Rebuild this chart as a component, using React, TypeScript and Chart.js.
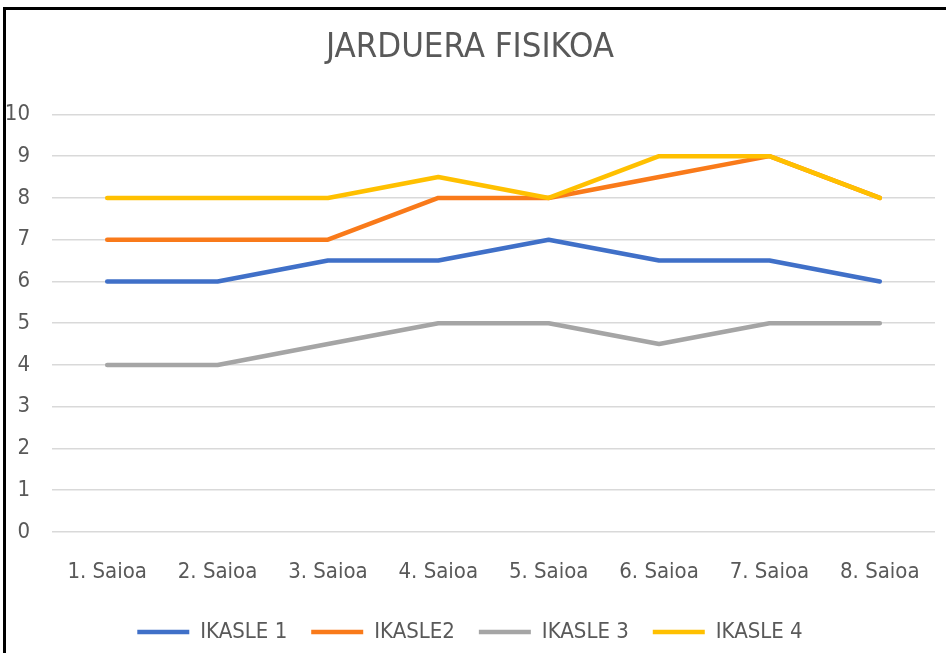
import React, { useEffect, useRef } from "react";
import { Chart, registerables } from "chart.js";

Chart.register(...registerables);

const TITLE = "JARDUERA FISIKOA";
const categories = ["1. Saioa", "2. Saioa", "3. Saioa", "4. Saioa", "5. Saioa", "6. Saioa", "7. Saioa", "8. Saioa"];
const seriesNames = ["IKASLE 1", "IKASLE2", "IKASLE 3", "IKASLE 4"];
const ikasle1 = [6, 6, 6.5, 6.5, 7, 6.5, 6.5, 6];
const ikasle2 = [7, 7, 7, 8, 8, 8.5, 9, 8];
const ikasle3 = [4, 4, 4.5, 5, 5, 4.5, 5, 5];
const ikasle4 = [8, 8, 8, 8.5, 8, 9, 9, 8];
const seriesColors = ["#4070C8", "#F97A1A", "#A5A5A5", "#FFC000"];
const yMin = 0;
const yMax = 10;
const yStep = 1;

const FONT = '"DejaVu Sans Condensed", "Liberation Sans Narrow", sans-serif';
const TEXT_COLOR = "#595959";

export default function App() {
  const canvasRef = useRef<HTMLCanvasElement | null>(null);

  useEffect(() => {
    const canvas = canvasRef.current;
    if (!canvas) return;
    const allSeries = [ikasle1, ikasle2, ikasle3, ikasle4];
    const chart = new Chart(canvas, {
      type: "line",
      data: {
        labels: categories,
        datasets: allSeries.map((values, i) => ({
          label: seriesNames[i],
          data: values,
          borderColor: seriesColors[i],
          backgroundColor: seriesColors[i],
          borderWidth: 4.5,
          pointRadius: 0,
          pointHoverRadius: 0,
          tension: 0,
          fill: false,
          order: allSeries.length - i,
          borderCapStyle: "round" as const,
          borderJoinStyle: "round" as const,
        })),
      },
      options: {
        animation: false,
        responsive: false,
        maintainAspectRatio: false,
        layout: { padding: { top: 10, left: 5, right: 11, bottom: 0 } },
        plugins: {
          title: {
            display: true,
            text: TITLE,
            color: TEXT_COLOR,
            font: { family: FONT, size: 34.5, weight: "normal" },
            padding: { top: 17.5, bottom: 45.5 },
          },
          legend: {
            display: true,
            position: "bottom",
            labels: {
              color: TEXT_COLOR,
              font: { family: FONT, size: 22 },
              usePointStyle: true,
              pointStyle: "line",
              pointStyleWidth: 52,
              boxHeight: 22,
              padding: 24,
              sort: (a: any, b: any) => a.datasetIndex - b.datasetIndex,
            },
          },
          tooltip: { enabled: false },
        },
        scales: {
          x: {
            offset: true,
            grid: { display: false, drawTicks: true, tickLength: 27 },
            border: { display: false },
            ticks: {
              color: TEXT_COLOR,
              font: { family: FONT, size: 22 },
              padding: 0,
              maxRotation: 0,
              autoSkip: false,
            },
            afterFit: (scale: any) => {
              scale.height = 65;
              scale.paddingLeft = 0;
              scale.paddingRight = 0;
            },
          },
          y: {
            min: yMin,
            max: yMax,
            grid: { color: "#D9D9D9", lineWidth: 1.5, drawTicks: false },
            border: { display: false },
            ticks: {
              stepSize: yStep,
              color: TEXT_COLOR,
              font: { family: FONT, size: 22 },
              padding: 22,
            },
            afterFit: (scale: any) => {
              scale.width = 47;
            },
          },
        },
      },
    });
    return () => chart.destroy();
  }, []);

  return (
    <div style={{ position: "fixed", left: 0, top: 0, width: 946, height: 653, background: "#fff", overflow: "hidden" }}>
      <canvas ref={canvasRef} width={946} height={653} style={{ position: "absolute", left: 0, top: 0, width: 946, height: 653 }} />
      <div style={{ position: "absolute", left: 3, top: 7, width: 943, height: 3, background: "#000" }} />
      <div style={{ position: "absolute", left: 3, top: 7, width: 3, height: 646, background: "#000" }} />
    </div>
  );
}
